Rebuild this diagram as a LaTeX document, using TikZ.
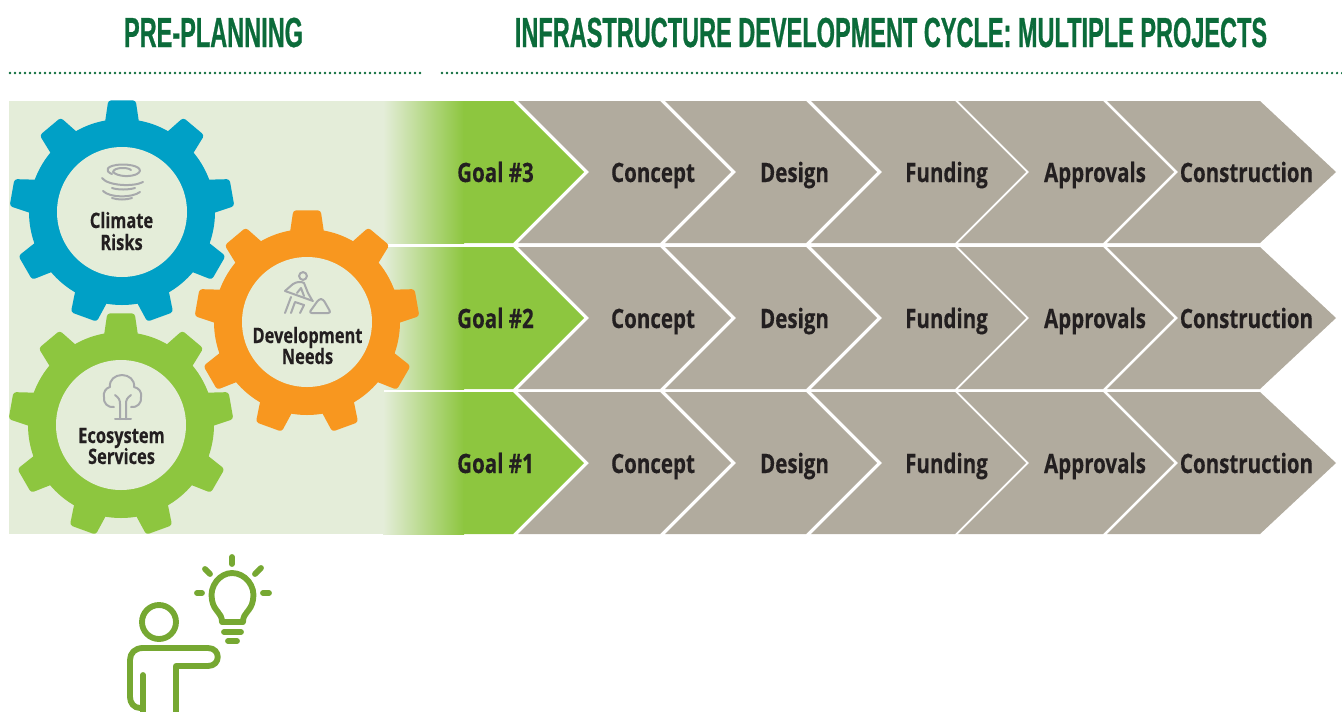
\documentclass[tikz,border=0pt]{standalone}
\usepackage{fontspec}
\setmainfont{Open Sans}
\newfontfamily\labelfont[FakeStretch=0.77,FakeBold=0.25]{Open Sans}
\newfontfamily\titlefont[FakeStretch=0.56,FakeBold=0.6]{Liberation Sans}
\definecolor{palegreen}{HTML}{E4EDD9}
\definecolor{leaf}{HTML}{8DC63F}
\definecolor{stone}{HTML}{B1AB9E}
\definecolor{sky}{HTML}{00A0C6}
\definecolor{amber}{HTML}{F8971F}
\definecolor{deep}{HTML}{0B6B3A}
\definecolor{iconol}{HTML}{A7A9AC}
\definecolor{ink}{HTML}{231F20}
\definecolor{idea}{HTML}{76A832}
\tikzset{
  x=0.75pt,y=-0.75pt,
  heading/.style={font=\titlefont\bfseries\fontsize{31.5}{32}\selectfont,text=deep,anchor=base,inner sep=0},
  dotline/.style={draw=deep,line width=1.9pt,line cap=round,dash pattern=on 0pt off 3.75pt},
  chevlabel/.style={font=\labelfont\bfseries\fontsize{20}{22}\selectfont,text=ink,anchor=base,inner sep=0},
  gearlabel/.style={font=\labelfont\bfseries\fontsize{16}{18}\selectfont,text=ink,anchor=base,inner sep=0},
  iconline/.style={draw=iconol,line width=1.5pt,line cap=round,line join=round},
  idealine/.style={draw=idea,line width=4.4pt,line cap=round,line join=round},
}
\newcommand{\gearat}[3]{%
  \begin{scope}[shift={(#1,#2)}]
    \fill[#3] (0,0) circle (93);
    \foreach \k in {0,...,8}{
      \pgfmathsetmacro{\a}{-90+40*\k}
      \fill[#3,rounded corners=2.2pt]
        ({\a-11}:90) -- ({\a-7}:112.5) -- ({\a+7}:112.5) -- ({\a+11}:90) -- cycle;
    }
    \fill[palegreen] (0,0) circle (65);
  \end{scope}}
\begin{document}
\begin{tikzpicture}
\useasboundingbox (0,0) rectangle (1342,711);
% headings
\node[heading] (h1) at (213.5,47) {PRE-PLANNING};
\node[heading] (h2) at (891,47) {INFRASTRUCTURE DEVELOPMENT CYCLE: MULTIPLE PROJECTS};
\coordinate (d1a) at (10,73); \coordinate (d1b) at (422,73);
\coordinate (d2a) at (442,73); \coordinate (d2b) at (1345,73);
\draw[dotline] (d1a) -- (d1b);
\draw[dotline] (d2a) -- (d2b);
% backdrop
\fill[palegreen] (9,101) rectangle (384,534);
\foreach \t/\b/\m/\g in {101/243/172/3,247/389/318/2,392/534/463/1}{
  \shade[left color=palegreen,right color=leaf] (383,\t) rectangle (464,\b);
  \fill[leaf] (463.5,\t) -- (513,\t) -- (584,\m) -- (513,\b) -- (463.5,\b) -- cycle;
  \foreach \l/\r in {518/660,665/806,811/955,958/1103}{
    \fill[stone] (\l,\t) -- (\r,\t) -- ({\r+71},\m) -- (\r,\b) -- (\l,\b) -- ({\l+71},\m) -- cycle;
  }
  \fill[stone] (1107,\t) -- (1260,\t) -- (1336,\m) -- (1260,\b) -- (1107,\b) -- (1178,\m) -- cycle;
  \node[chevlabel] (goal\g) at (495.5,\m+10) {Goal \#\g};
  \node[chevlabel] (concept\g) at (653,\m+10) {Concept};
  \node[chevlabel] (design\g) at (794.5,\m+10) {Design};
  \node[chevlabel] (funding\g) at (946.5,\m+10) {Funding};
  \node[chevlabel] (approvals\g) at (1095,\m+10) {Approvals};
  \node[chevlabel] (construction\g) at (1246.5,\m+10) {Construction};
}
% gears
\gearat{122}{212}{sky}
\gearat{121}{425}{leaf}
\gearat{307}{322}{amber}
\node[gearlabel] (cl1) at (121.5,228) {Climate};
\node[gearlabel] (cl2) at (121.5,250) {Risks};
\node[gearlabel] (dv1) at (307.5,343) {Development};
\node[gearlabel] (dv2) at (307.5,364) {Needs};
\node[gearlabel] (ec1) at (121.5,443) {Ecosystem};
\node[gearlabel] (ec2) at (121.5,464) {Services};
% tornado icon
\draw[iconline] (112,174) .. controls (104,171) and (106,165) .. (122,164.5)
  .. controls (138,164.5) and (144,170) .. (137,174) .. controls (131,177) and (118,177) .. (113,172)
  .. controls (114,167) and (128,167) .. (131,170);
\draw[iconline] (102,178) .. controls (108,186) and (134,187) .. (143,182);
\draw[iconline] (112,188) .. controls (118,190) and (128,190) .. (135,188);
\draw[iconline] (103,191) .. controls (110,198) and (132,198) .. (140,192);
\draw[iconline] (112,198) .. controls (118,200) and (126,200) .. (132,198);
% tree icon
\draw[iconline] (115,419) -- (131,419);
\draw[iconline] (120,419) -- (120,404) .. controls (120,400) and (119,398) .. (115,395);
\draw[iconline] (126,419) -- (126,404) .. controls (126,400) and (127,398) .. (131,395);
\draw[iconline] (114,407) .. controls (108,408) and (103,403) .. (104,397)
  .. controls (103,392) and (106,388) .. (110,387)
  .. controls (109,380) and (115,375) .. (122,375)
  .. controls (129,375) and (135,380) .. (134,387)
  .. controls (139,388) and (142,392) .. (141,397)
  .. controls (142,403) and (137,408) .. (131,407);
% digger icon
\draw[iconline] (303,276) circle (3.9);
\draw[iconline] (285,291) -- (293,284) .. controls (296,282) and (301,281) .. (304,283) -- (308,293) -- (312,300);
\draw[iconline] (285,291) -- (313,301);
\draw[iconline] (297,293) -- (301,288) -- (304,296);
\draw[iconline] (285,313) -- (291,297);
\draw[iconline] (291,313) -- (295,302) -- (304,305) -- (300,313);
\draw[iconline,rounded corners=2pt] (309,313) -- (319,299) -- (323,299) -- (331,313) -- cycle;
% idea icon
\draw[idealine] (159,622) circle (17);
\draw[idealine] (143,675) -- (143,715);
\draw[idealine] (140,708) .. controls (134,708) and (130,703) .. (130,697) -- (130,660)
  .. controls (130,653) and (135,648) .. (143,648) -- (208,648)
  .. controls (221,648) and (221,666) .. (208,666) -- (176,666) -- (176,715);
\draw[idealine] (222,622) .. controls (222,612) and (214,612) .. (212,600)
  .. controls (209,586) and (220,573) .. (232,573)
  .. controls (245,573) and (256,586) .. (253,600)
  .. controls (251,612) and (243,612) .. (243,622) -- cycle;
\draw[idealine] (224,632) -- (241,632);
\draw[idealine] (228,641) -- (237,641);
\draw[idealine] (232,557) -- (232,564);
\draw[idealine] (197,593) -- (202,593);
\draw[idealine] (263,593) -- (269,593);
\draw[idealine] (205,569) -- (210,574);
\draw[idealine] (261,568) -- (255,574);
\end{tikzpicture}
\end{document}
